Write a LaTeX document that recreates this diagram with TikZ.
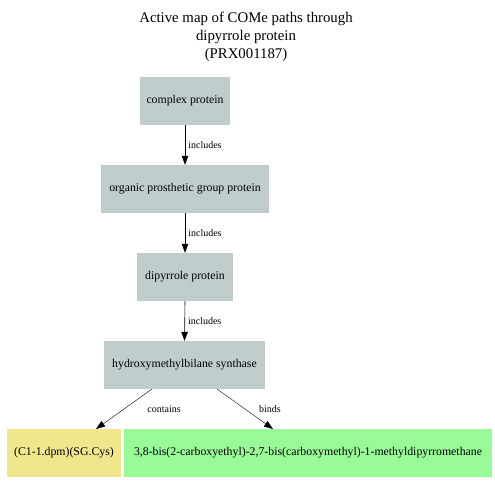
\documentclass[tikz,border=0pt]{standalone}
\usepackage{fontspec}
\setmainfont{Liberation Serif}
\usetikzlibrary{arrows.meta}
\definecolor{boxgrey}{HTML}{C1CDCD}
\definecolor{boxkhaki}{HTML}{F0E68C}
\definecolor{boxgreen}{HTML}{98FB98}
\tikzset{
  box/.style={draw=none, inner sep=0pt, anchor=center, font=\fontsize{11.8}{13}\selectfont},
  conn/.style={draw=black, line width=0.6pt, -{Triangle[length=9pt,width=6.5pt]}},
  elabel/.style={font=\fontsize{10}{11}\selectfont, inner sep=0pt}
}
\begin{document}
\begin{tikzpicture}[x=1pt,y=-1pt]
\useasboundingbox (0,0) rectangle (494,494);
\fill[white] (0,0) rectangle (494,494);
\node[font=\fontsize{14.8}{18}\selectfont, align=center, inner sep=0pt] (title) at (246,37) {Active map of COMe paths through\\dipyrrole protein\\(PRX001187)};
\node[box, fill=boxgrey, minimum width=90, minimum height=48] (cp) at (185,101) {complex protein};
\node[box, fill=boxgrey, minimum width=168, minimum height=48] (opg) at (185,189) {organic prosthetic group protein};
\node[box, fill=boxgrey, minimum width=96, minimum height=48] (dp) at (185,277) {dipyrrole protein};
\node[box, fill=boxgrey, minimum width=161, minimum height=48] (hs) at (184.5,365) {hydroxymethylbilane synthase};
\node[box, fill=boxkhaki, minimum width=114, minimum height=48] (cys) at (64,453) {(C1-1.dpm)(SG.Cys)};
\node[box, fill=boxgreen, minimum width=368, minimum height=48] (dpm) at (308,453) {3,8-bis(2-carboxyethyl)-2,7-bis(carboxymethyl)-1-methyldipyrromethane};
\draw[conn] (cp.south) -- (opg.north) node[elabel, midway, right=3pt] {includes};
\draw[conn] (opg.south) -- (dp.north) node[elabel, midway, right=3pt] {includes};
\draw[conn] (dp.south) -- (hs.north) node[elabel, midway, right=3pt] {includes};
\coordinate (hsl) at (152,389);
\coordinate (hsr) at (217,389);
\coordinate (cyst) at (96,429);
\coordinate (dpmt) at (273,429);
\draw[conn, line width=0.4pt] (hsl) -- (cyst);
\draw[conn, line width=0.4pt] (hsr) -- (dpmt);
\node[elabel] (lc) at (164,409) {contains};
\node[elabel] (lb) at (270,409) {binds};
\end{tikzpicture}
\end{document}
